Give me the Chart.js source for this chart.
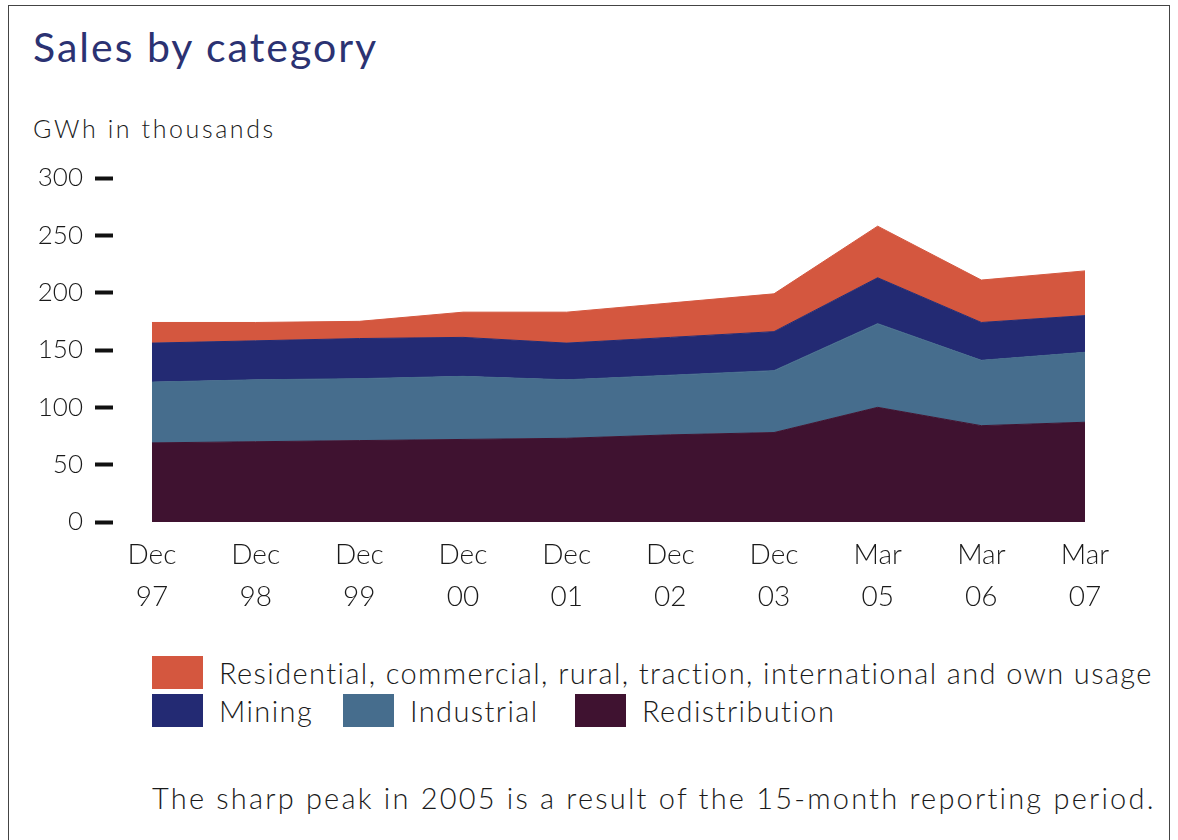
<!DOCTYPE html>
<html>
<head>
<meta charset="utf-8">
<script src="https://cdn.jsdelivr.net/npm/chart.js@4.4.1/dist/chart.umd.min.js"></script>
<style>
  html, body { margin: 0; padding: 0; background: #fff; }
  body { width: 1178px; height: 840px; position: relative; overflow: hidden; font-family: Lato, "Open Sans", sans-serif; font-weight: 300; color: #1a1a1a; }
  .frame { position: absolute; left: 8px; top: 5px; width: 1162px; height: 850px; border: 1px solid #444; box-sizing: border-box; }
  .title { position: absolute; left: 33px; top: 22px; font-size: 41px; font-weight: 400; letter-spacing: 2px; color: #2b3272; white-space: nowrap; }
  .unit { position: absolute; left: 33px; top: 113px; font-size: 25px; letter-spacing: 2.6px; white-space: nowrap; }
  #wrap { position: absolute; left: 0; top: 150px; width: 1178px; height: 480px; }
  .lg { position: absolute; display: flex; align-items: center; font-size: 29px; letter-spacing: 1.4px; white-space: nowrap; }
  .lg .box { width: 51px; height: 33px; margin-right: 16px; }
  .note { position: absolute; left: 152px; top: 780px; font-size: 29px; letter-spacing: 2.2px; white-space: nowrap; }
</style>
</head>
<body>
<div class="frame"></div>
<div class="title">Sales by category</div>
<div class="unit">GWh in thousands</div>
<div id="wrap"><canvas id="salesChart" width="1178" height="480"></canvas></div>
<div id="legend"></div>
<div class="note">The sharp peak in 2005 is a result of the 15-month reporting period.</div>

<script>
// Period labels (two lines: month / year)
const months = ['Dec', 'Dec', 'Dec', 'Dec', 'Dec', 'Dec', 'Dec', 'Mar', 'Mar', 'Mar'];
const years = ['97', '98', '99', '00', '01', '02', '03', '05', '06', '07'];

// GWh in thousands, per category (stacked bottom to top)
const redistribution = [69, 70, 71, 72, 73, 76, 78, 100, 84, 87];
const industrial = [53, 54, 54, 55, 51, 52, 54, 73, 57, 61];
const mining = [34, 34, 35, 34, 32, 33, 34, 40, 33, 32];
const residential = [18, 16, 15, 22, 27, 30, 33, 45, 37, 39];

const yTicks = [0, 50, 100, 150, 200, 250, 300];

const seriesNames = ['Redistribution', 'Industrial', 'Mining',
  'Residential, commercial, rural, traction, international and own usage'];
const seriesColors = ['#3f1230', '#466d8d', '#232a73', '#d4573f'];
const seriesValues = [redistribution, industrial, mining, residential];

const datasets = seriesValues.map((vals, i) => ({
  label: seriesNames[i],
  data: vals.map((v, idx) => ({ x: idx, y: v })),
  backgroundColor: seriesColors[i],
  borderColor: seriesColors[i],
  borderWidth: 1,
  pointRadius: 0,
  tension: 0,
  fill: i === 0 ? 'origin' : '-1'
}));

const ctx = document.getElementById('salesChart').getContext('2d');
new Chart(ctx, {
  type: 'line',
  data: { datasets: datasets },
  options: {
    responsive: false,
    animation: false,
    layout: { padding: { top: 28, right: 93, left: 0, bottom: 0 } },
    plugins: {
      legend: { display: false },
      tooltip: { enabled: false }
    },
    scales: {
      x: {
        type: 'linear',
        min: -0.376,
        max: years.length - 1,
        afterFit: (scale) => { scale.height = 108; },
        afterBuildTicks: (scale) => {
          scale.ticks = years.map((y, i) => ({ value: i }));
        },
        grid: { display: false, drawTicks: false },
        border: { display: false },
        ticks: {
          autoSkip: false,
          maxRotation: 0,
          padding: 12,
          color: '#1a1a1a',
          font: { family: 'Lato', size: 28, weight: 300, lineHeight: 1.5 },
          callback: (v) => [months[v], years[v]]
        }
      },
      y: {
        stacked: true,
        min: 0,
        max: 300,
        afterFit: (scale) => { scale.width = 113; },
        afterBuildTicks: (scale) => {
          scale.ticks = yTicks.map(v => ({ value: v }));
        },
        grid: {
          drawOnChartArea: false,
          tickLength: 18,
          tickWidth: 4,
          tickColor: '#111'
        },
        border: { display: false },
        ticks: {
          padding: 12,
          color: '#1a1a1a',
          font: { family: 'Lato', size: 26, weight: 300 }
        }
      }
    }
  }
});

// Legend laid out as in the original: one long item, then three on a row
const legendOrder = [3, 2, 1, 0];
const legendPos = [[152, 655], [152, 693], [343, 693], [575, 693]];
const legend = document.getElementById('legend');
legendOrder.forEach((si, k) => {
  const item = document.createElement('div');
  item.className = 'lg';
  item.style.left = legendPos[k][0] + 'px';
  item.style.top = legendPos[k][1] + 'px';
  item.innerHTML = `<span class="box" style="background:${seriesColors[si]}"></span><span>${seriesNames[si]}</span>`;
  legend.appendChild(item);
});
</script>
</body>
</html>
